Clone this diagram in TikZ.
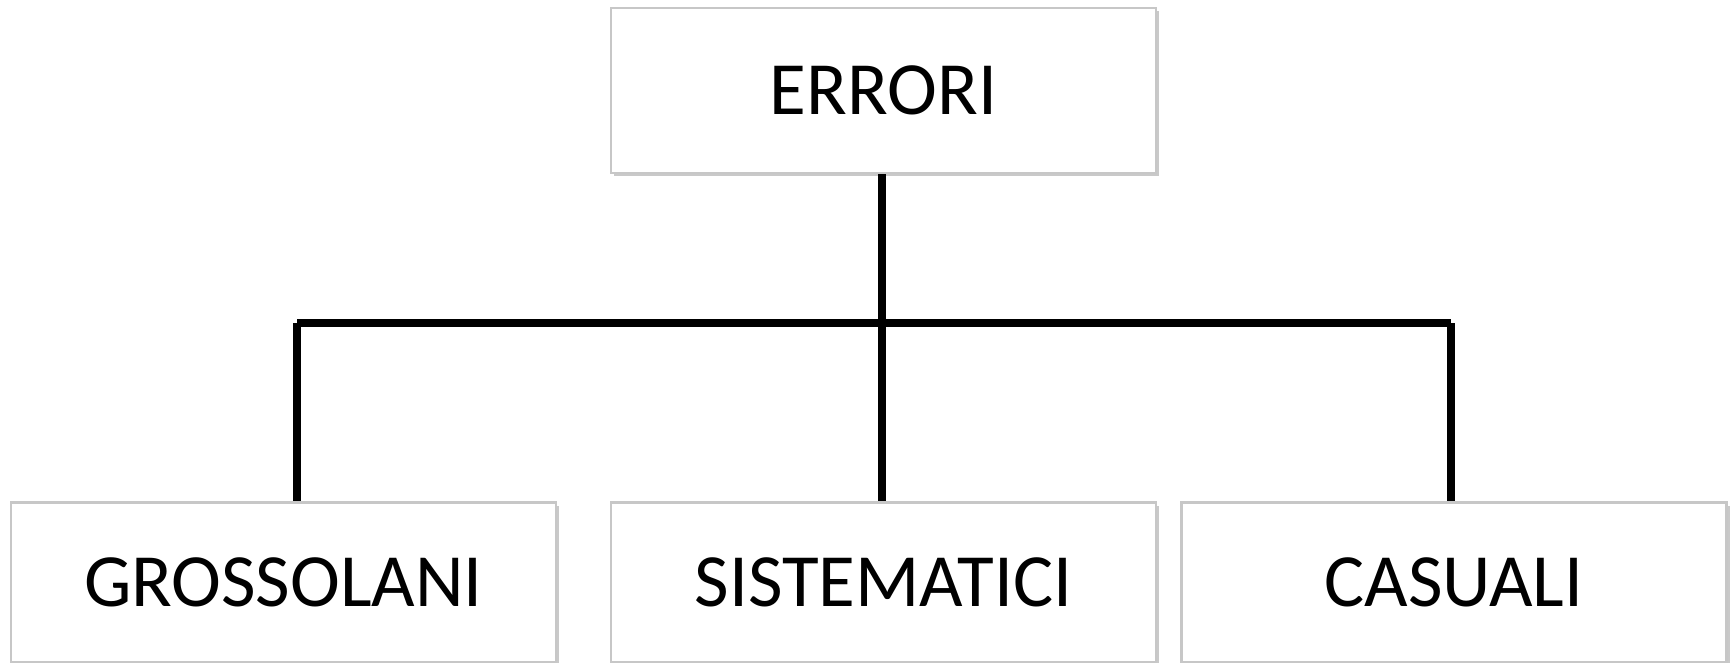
\documentclass[tikz,border=0pt]{standalone}
\usepackage{fontspec}
\setmainfont{Carlito}
\usetikzlibrary{shadows}
\tikzset{
  box/.style={draw=black!22, line width=1.2pt, fill=white, minimum width=272.5pt, minimum height=80pt,
    font=\fontsize{37.6}{44}\selectfont, inner sep=0pt, anchor=center,
    drop shadow={shadow xshift=1.5pt, shadow yshift=-1.5pt, fill=black!30, opacity=0.7}},
  conn/.style={line width=3.8pt, black}
}
\begin{document}
\begin{tikzpicture}[x=0.5pt,y=-0.5pt]
\useasboundingbox (0,0) rectangle (1733,663);
\node[box, minimum height=82.5pt] (errori) at (883.5,90.5) {ERRORI};
\node[box] (gross) at (283.5,582.5) {GROSSOLANI};
\node[box] (sist) at (883.5,582.5) {SISTEMATICI};
\node[box] (cas) at (1454,582.5) {CASUALI};
\coordinate (hl) at (297,323);
\coordinate (hr) at (1451,323);
\draw[conn] (hl) -- (hr);
\draw[conn] (errori.south -| 882,0) -- (sist.north -| 882,0);
\draw[conn] (hl) -- (hl |- gross.north);
\draw[conn] (hr) -- (hr |- cas.north);
\end{tikzpicture}
\end{document}
